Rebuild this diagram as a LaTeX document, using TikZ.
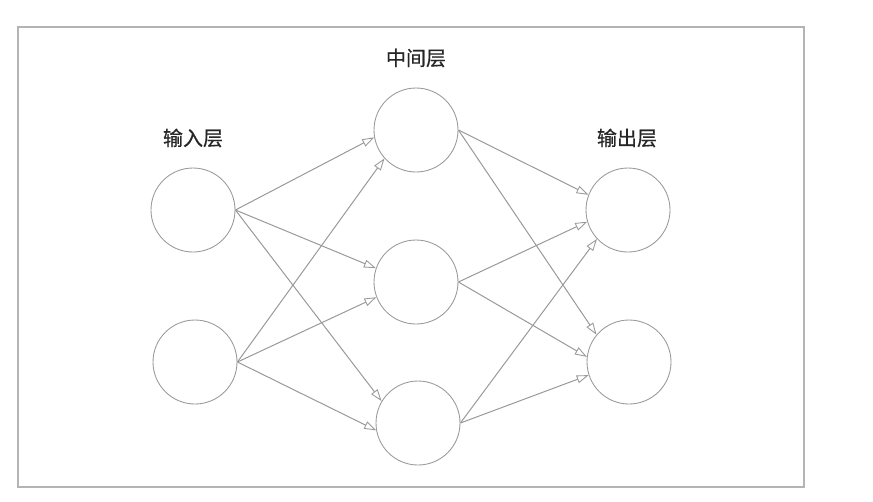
\documentclass[tikz,border=0pt]{standalone}
\usepackage{fontspec}
\newfontfamily\cjk[FakeBold=0.6]{Noto Sans CJK SC}
\usetikzlibrary{arrows.meta}
\definecolor{linegray}{HTML}{999999}
\definecolor{framegray}{HTML}{B4B4B4}
\definecolor{textdark}{HTML}{262626}
\begin{document}
\begin{tikzpicture}[x=0.75pt,y=-0.75pt,
  neuron/.style={circle,draw=linegray,line width=0.65pt,minimum size=63pt,inner sep=0pt},
  layerlabel/.style={font=\cjk\fontsize{15}{17}\selectfont,text=textdark,inner sep=0pt},
  link/.style={draw=linegray,line width=0.75pt,
    -{Triangle[open,length=9pt,width=6pt,line width=0.65pt]}}]
\useasboundingbox (0,0) rectangle (873,501);
% outer frame
\draw[framegray,line width=1.1pt] (18,27) rectangle (804,487);

% neurons
\node[neuron] (i1) at (193,210) {};
\node[neuron] (i2) at (195,362) {};
\node[neuron] (h1) at (416,130) {};
\node[neuron] (h2) at (416,282) {};
\node[neuron] (h3) at (418,423) {};
\node[neuron] (o1) at (628,210) {};
\node[neuron] (o2) at (629,362) {};

% layer titles
\node[layerlabel] (li) at (193,138) {输入层};
\node[layerlabel] (lh) at (416,58) {中间层};
\node[layerlabel] (lo) at (627,138) {输出层};

% input -> hidden
\draw[link] (i1.east) -- (h1.190);
\draw[link] (i1.east) -- (h2.161);
\draw[link] (i1.east) -- (h3.149);
\draw[link] (i2.east) -- (h1.222);
\draw[link] (i2.east) -- (h2.201);
\draw[link] (i2.east) -- (h3.190);

% hidden -> output
\draw[link] (h1.east) -- (o1.159);
\draw[link] (h1.east) -- (o2.140);
\draw[link] (h2.east) -- (o1.196);
\draw[link] (h2.east) -- (o2.173);
\draw[link] (h3.east) -- (o1.223);
\draw[link] (h3.east) -- (o2.198);
\end{tikzpicture}
\end{document}
